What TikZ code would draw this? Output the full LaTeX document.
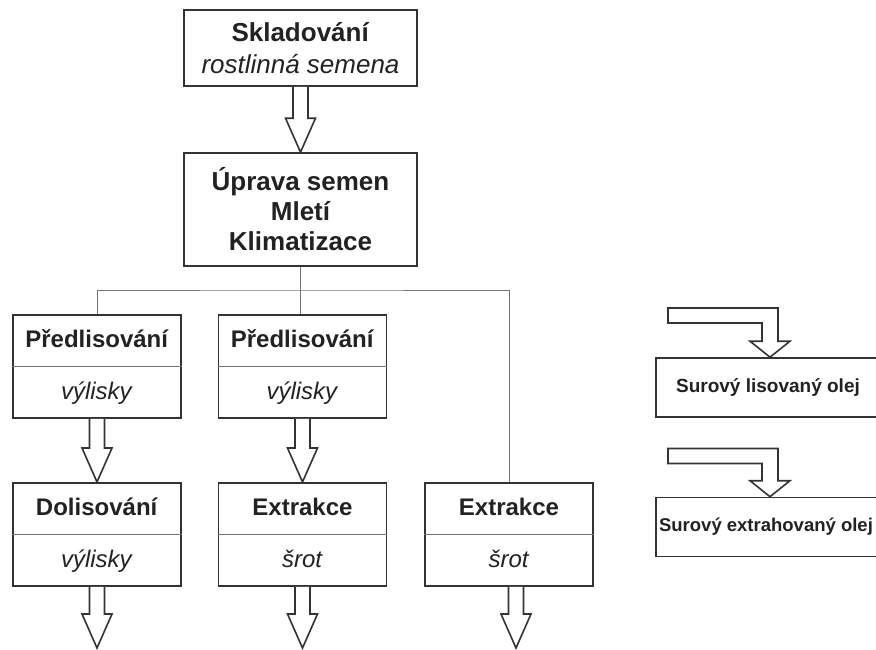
\documentclass[tikz,border=0pt]{standalone}
\usepackage{fontspec}
\setmainfont{Liberation Sans}
\usetikzlibrary{calc,shapes.multipart}

\definecolor{inkline}{HTML}{333333}
\definecolor{inktext}{HTML}{222222}
\tikzset{
    stage/.style={draw=inkline, line width=1.6pt, fill=white, align=center, text=inktext, inner sep=0pt},
    twopart/.style={stage, rectangle split, rectangle split parts=2, rectangle split draw splits=false,
        minimum width=168pt, font=\fontsize{24}{28}\selectfont},
    oilbox/.style={stage, minimum width=224pt, minimum height=59pt, font=\bfseries\fontsize{19}{22}\selectfont},
    link/.style={draw=black!55, line width=0.8pt},
    fatarrow/.style={draw=inkline, line width=1.6pt, fill=white, line join=miter}
}
\newcommand{\partstrut}{\rule[-18pt]{0pt}{50pt}}
% block arrow straight down from #1 to #2
\newcommand{\blockarrow}[2]{%
    \draw[fatarrow] let \p1=(#1), \p2=(#2) in
        (\x1-7.5pt,\y1) -- (\x1-7.5pt,\y2+34pt) -- (\x1-15pt,\y2+34pt) -- (\x1,\y2)
        -- (\x1+15pt,\y2+34pt) -- (\x1+7.5pt,\y2+34pt) -- (\x1+7.5pt,\y1);}
% block arrow coming from the left (#1) and turning down onto #2
\newcommand{\bentarrow}[2]{%
    \draw[fatarrow] let \p1=(#1), \p2=(#2) in
        (\x1,\y1+7.5pt) -- (\x2+8pt,\y1+7.5pt) -- (\x2+8pt,\y2+16pt) -- (\x2+20pt,\y2+16pt)
        -- (\x2,\y2) -- (\x2-20pt,\y2+16pt) -- (\x2-8pt,\y2+16pt) -- (\x2-8pt,\y1-7.5pt)
        -- (\x1,\y1-7.5pt) -- cycle;}

\begin{document}
\begin{tikzpicture}[x=1pt,y=-1pt]
\useasboundingbox (0,0) rectangle (876,649);
\clip (0,0) rectangle (876,649);

\node[stage, minimum width=233pt, minimum height=76pt, font=\fontsize{26}{32}\selectfont]
    (store) at (300.5,48) {\textbf{Skladování}\\\textit{rostlinná semena}};
\node[stage, minimum width=233pt, minimum height=113pt, font=\bfseries\fontsize{26}{30}\selectfont]
    (prep) at (300.5,209.5) {Úprava semen\\Mletí\\Klimatizace};

\node[twopart, anchor=north] (pre1) at (97,314)
    {\partstrut\textbf{Předlisování}\nodepart{two}\partstrut\textit{výlisky}};
\node[twopart, anchor=north] (pre2) at (302.5,314)
    {\partstrut\textbf{Předlisování}\nodepart{two}\partstrut\textit{výlisky}};
\node[twopart, anchor=north] (post1) at (97,482)
    {\partstrut\textbf{Dolisování}\nodepart{two}\partstrut\textit{výlisky}};
\node[twopart, anchor=north] (ext1) at (302.5,482)
    {\partstrut\textbf{Extrakce}\nodepart{two}\partstrut\textit{šrot}};
\node[twopart, anchor=north] (ext2) at (509,482)
    {\partstrut\textbf{Extrakce}\nodepart{two}\partstrut\textit{šrot}};
\foreach \n in {pre1,pre2,post1,ext1,ext2}
    \draw[link] (\n.text split west) -- (\n.text split east);

\node[oilbox] (oil1) at (768,387.5) {Surový lisovaný olej};
\node[oilbox] (oil2) at (768,527) {\makebox[0pt]{\hspace*{-4pt}\fontsize{18.5}{22}\selectfont Surový extrahovaný olej}};

% distribution lines
\coordinate (bus) at (300,290);
\draw[link] (prep.south) -- (prep.south |- pre2.north);
\draw[link] (pre1.north) |- (bus) -| (ext2.north);

% block arrows
\coordinate (out1) at (97,648);
\coordinate (out2) at (304,648);
\coordinate (out3) at (516,648);
\blockarrow{store.south}{prep.north}
\blockarrow{pre1.south}{post1.north}
\blockarrow{pre2.south}{ext1.north}
\blockarrow{post1.south}{out1}
\blockarrow{ext1.south}{out2}
\blockarrow{out3 |- ext2.south}{out3}

\coordinate (in1) at (668,315.5);
\coordinate (in2) at (668,456);
\bentarrow{in1}{[xshift=2pt]oil1.north}
\bentarrow{in2}{[xshift=2pt]oil2.north}
\end{tikzpicture}
\end{document}
